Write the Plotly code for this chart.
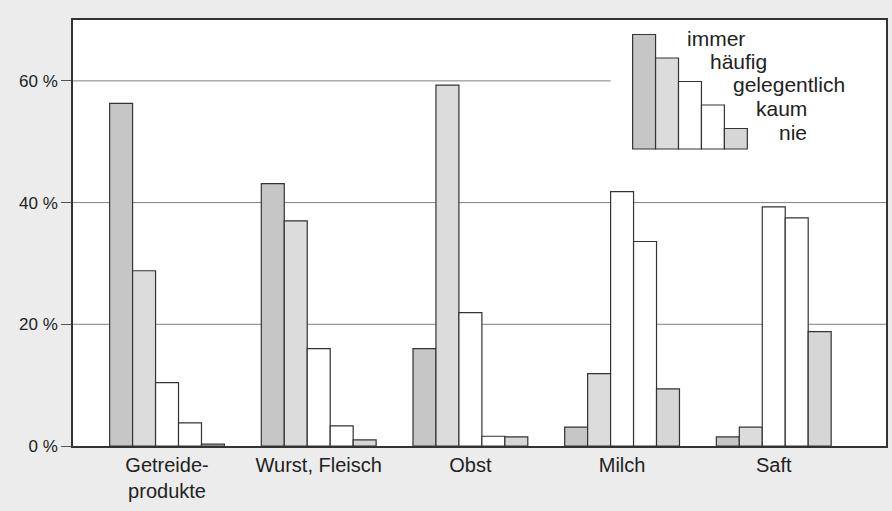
import plotly.graph_objects as go

categories = ["Getreide-<br>produkte", "Wurst, Fleisch", "Obst", "Milch", "Saft"]
series_names = ["immer", "häufig", "gelegentlich", "kaum", "nie"]
immer = [56.3, 43.1, 16.0, 3.1, 1.5]
haeufig = [28.8, 37.0, 59.3, 11.9, 3.1]
gelegentlich = [10.4, 16.0, 21.9, 41.8, 39.3]
kaum = [3.8, 3.3, 1.6, 33.6, 37.5]
nie = [0.3, 1.0, 1.5, 9.4, 18.8]
series_values = [immer, haeufig, gelegentlich, kaum, nie]
series_colors = ["#c6c6c6", "#dcdcdc", "#ffffff", "#ffffff", "#d6d6d6"]
tick_vals = [0, 20, 40, 60]
tick_text = ["0 %", "20 %", "40 %", "60 %"]
# legend key bar heights (decorative staircase)
legend_heights = [5, 4, 3, 2, 1]

FONT = "Liberation Sans, Arial, sans-serif"
W, H = 892, 511
L, R, T, B = 73, 4, 20, 65
pw, ph = W - L - R, H - T - B

def px(x):
    return (x - L) / pw

def py(y):
    return (H - B - y) / ph

fig = go.Figure()
for name, vals, col in zip(series_names, series_values, series_colors):
    fig.add_trace(go.Bar(
        name=name, x=list(range(len(categories))), y=vals,
        marker=dict(color=col, line=dict(color="#333333", width=1.2)),
        showlegend=False, hoverinfo="y"))

shapes = []
# gridlines
for v, x1 in [(20, 1), (40, 1), (60, px(612))]:
    shapes.append(dict(type="line", xref="paper", yref="y", x0=0, x1=x1, y0=v, y1=v,
                       line=dict(color="#808080", width=1), layer="below"))

# legend key staircase
bar_w = 23.0
left0 = 634
bottom = 149
unit = 23.5
annotations = []
for i, (name, col, h) in enumerate(zip(series_names, series_colors, legend_heights)):
    x0 = left0 + i * bar_w
    top = bottom - (h * unit - 3)
    shapes.append(dict(type="rect", xref="paper", yref="paper",
                       x0=px(x0), x1=px(x0 + bar_w), y0=py(bottom), y1=py(top),
                       fillcolor=col, line=dict(color="#333333", width=1.2), layer="above"))
    annotations.append(dict(xref="paper", yref="paper", x=px(687 + i * 23), y=py(38 + i * 23.5),
                            text=name, showarrow=False, xanchor="left", yanchor="middle",
                            font=dict(family=FONT, size=21, color="#222222")))

fig.update_layout(
    width=W, height=H,
    margin=dict(l=L, r=R, t=T, b=B),
    paper_bgcolor="#ececec", plot_bgcolor="#ffffff",
    barmode="group", bargap=0.243, bargroupgap=0,
    shapes=shapes, annotations=annotations,
    font=dict(family=FONT, color="#222222"),
    xaxis=dict(range=[-0.62, 4.74], tickmode="array", tickvals=list(range(len(categories))),
               ticktext=categories, showgrid=False, zeroline=False, ticks="",
               showline=True, mirror=True, linecolor="#333333", linewidth=1.5,
               tickfont=dict(family=FONT, size=20, color="#222222")),
    yaxis=dict(range=[0, 70], tickmode="array", tickvals=tick_vals, ticktext=tick_text,
               showgrid=False, zeroline=False, ticks="outside", ticklen=10, tickcolor="#555555",
               showline=True, mirror=True, linecolor="#333333", linewidth=1.5,
               tickfont=dict(family=FONT, size=17, color="#222222")),
)

fig.write_html("out.html", config={"displayModeBar": False},
               post_script="document.body.style.margin='0';document.body.style.padding='0';")
